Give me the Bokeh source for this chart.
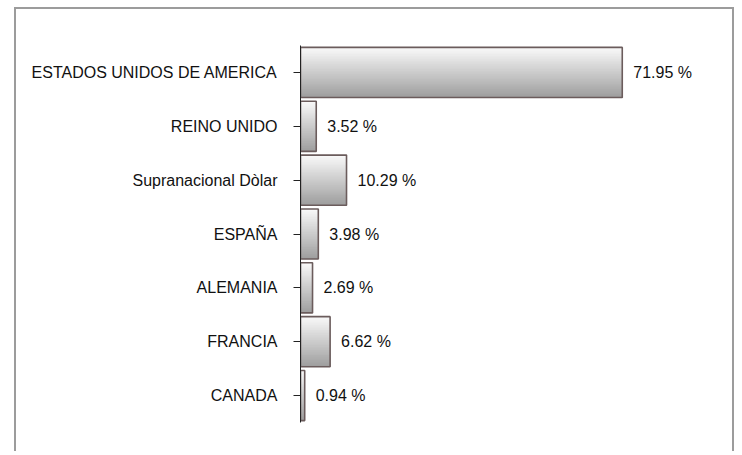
import numpy as np
from bokeh.plotting import figure
from bokeh.models import ColumnDataSource, Range1d, FixedTicker
from bokeh.core.properties import value
from bokeh.embed import file_html
from bokeh.resources import INLINE

categories = ["ESTADOS UNIDOS DE AMERICA", "REINO UNIDO", "Supranacional Dòlar",
              "ESPAÑA", "ALEMANIA", "FRANCIA", "CANADA"]
values = [71.95, 3.52, 10.29, 3.98, 2.69, 6.62, 0.94]
value_labels = ["71.95 %", "3.52 %", "10.29 %", "3.98 %", "2.69 %", "6.62 %", "0.94 %"]

FONT = "Liberation Sans"
BAR_H = 0.93
N_STRIPS = 30
TOP_RGB = np.array([250, 250, 250])
BOT_RGB = np.array([158, 158, 158])

positions = list(range(len(categories)))

p = figure(width=720, height=444, output_backend="svg", toolbar_location=None,
           x_range=Range1d(0, 88.55), y_range=Range1d(len(categories) - 0.5, -0.5),
           min_border_left=284, min_border_right=40, min_border_top=36, min_border_bottom=31)
# chart-area border (bottom edge falls outside the window)
p.styles = {"border-left": "2px solid #9c9c9c", "border-top": "2px solid #9c9c9c",
            "border-right": "2px solid #9c9c9c", "margin-left": "14px", "margin-top": "7px"}

# gradient: each strip runs from its own top to the bar bottom, drawn top-down
qt, qb, qr, qc = [], [], [], []
strip_h = BAR_H / N_STRIPS
for pos, v in zip(positions, values):
    top = pos - BAR_H / 2
    bottom = pos + BAR_H / 2
    for k in range(N_STRIPS):
        t = (k + 0.5) / N_STRIPS
        rgb = (TOP_RGB + (BOT_RGB - TOP_RGB) * t).astype(int)
        qt.append(top + k * strip_h)
        qb.append(bottom)
        qr.append(v)
        qc.append("#%02x%02x%02x" % tuple(rgb))
strips = ColumnDataSource(dict(top=qt, bottom=qb, right=qr, color=qc))
p.quad(left=0, right="right", top="top", bottom="bottom", source=strips,
       fill_color="color", line_color=None)

src = ColumnDataSource(dict(y=positions, right=values, label=value_labels))
p.hbar(y="y", left=0, right="right", height=BAR_H, source=src,
       fill_color=None, line_color="#6b5c5c", line_width=1.6)

p.text(x="right", y="y", text="label", source=src, x_offset=11,
       text_baseline="middle", text_align="left",
       text_font=value(FONT), text_font_size="16px", text_color="#111111")

p.xaxis.visible = False
p.xgrid.visible = False
p.ygrid.visible = False
p.outline_line_color = None

ya = p.yaxis[0]
ya.ticker = FixedTicker(ticks=positions)
ya.major_label_overrides = {i: c for i, c in zip(positions, categories)}
ya.major_tick_out = 7
ya.major_tick_in = 0
ya.minor_tick_out = 0
ya.minor_tick_in = 0
ya.major_label_standoff = 16
ya.major_label_text_font = FONT
ya.major_label_text_font_size = "16px"
ya.major_label_text_color = "#111111"
ya.axis_line_color = "#222222"
ya.major_tick_line_color = "#222222"

open("out.html", "w").write(file_html(p, INLINE))
